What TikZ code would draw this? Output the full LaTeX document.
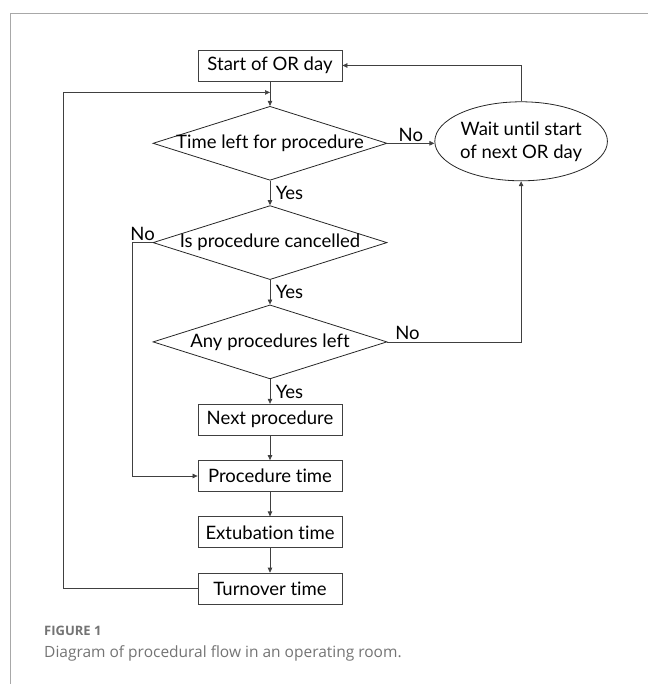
\documentclass[tikz,border=0pt]{standalone}
\usepackage{fontspec}
\setmainfont{Lato}[Ligatures=NoCommon]
\newfontfamily\capfont{Open Sans}
\usetikzlibrary{shapes.geometric}
\usetikzlibrary{arrows.meta}
\usetikzlibrary{calc}
\usetikzlibrary{positioning}
\definecolor{framegray}{HTML}{A8A8A8}
\definecolor{capgray}{HTML}{747474}

\begin{document}
\begin{tikzpicture}[x=1pt, y=1pt,
    boxnode/.style={rectangle, draw=black!75, line width=0.8pt, minimum width=144pt, minimum height=31pt, inner sep=1pt, font=\fontsize{18.5}{20}\selectfont},
    decision/.style={diamond, draw=black!85, line width=0.8pt, minimum width=234pt, minimum height=74pt, inner sep=0pt},
    dtext/.style={font=\fontsize{18.5}{20}\selectfont, inner sep=0pt},
    waitnode/.style={ellipse, draw=black!85, line width=0.8pt, minimum width=167pt, minimum height=79pt, inner sep=0pt, align=center, font=\fontsize{18.5}{23}\selectfont},
    arr/.style={-{Triangle[length=5pt, width=4.5pt]}, draw=black!75, line width=0.7pt},
    lbl/.style={font=\fontsize{18.5}{20}\selectfont, inner sep=1.5pt},
    node distance=24.5pt]
    \useasboundingbox (0,0) rectangle (648,-684);
    % Frame
    \draw[framegray, line width=0.8pt] (10,-684) |- (648,-13);

    %Nodes
    \node[boxnode] (start) at (270,-65.5) {Start of OR day};
    \node[decision, label={[dtext]center:Time left for procedure}] (d1) [below=of start] {};
    \node[decision, label={[dtext]center:Is procedure cancelled}] (d2) [below=of d1] {};
    \node[decision, label={[dtext]center:Any procedures left}] (d3) [below=of d2] {};
    \node[boxnode] (next) [below=of d3] {Next procedure};
    \node[boxnode] (proc) [below=of next] {Procedure time};
    \node[boxnode] (extub) [below=of proc] {Extubation time};
    \node[boxnode] (turn) [below=of extub] {Turnover time};
    \node[waitnode] (wait) [right=47pt of d1, yshift=2pt] {Wait until start\\of next OR day};
    \coordinate (merge) at ($(start.south)!0.45!(d1.north)$);

    % Main line
    \draw[arr] (start) -- (d1);
    \draw[arr] (d1) -- node[lbl, right=4pt] {Yes} (d2);
    \draw[arr] (d2) -- node[lbl, right=4pt] {Yes} (d3);
    \draw[arr] (d3) -- node[lbl, right=4pt] {Yes} (next);
    \draw[arr] (next) -- (proc);
    \draw[arr] (proc) -- (extub);
    \draw[arr] (extub) -- (turn);

    % Branches
    \draw[arr] (d1.east) -- node[lbl, above] {No} (d1.east -| wait.west);
    \draw[arr] (d2.west) -- node[lbl, above] {No} ++(-20,0) |- (proc.west);
    \draw[arr] (d3.east) -- node[lbl, above, pos=0.15] {No} (d3.east -| wait.south) -- (wait.south);
    \draw[arr] (wait.north) |- (start.east);
    \draw[arr] (turn.west) -- ++(-134,0) |- (merge);

    % Caption
    \node[anchor=base west, inner sep=0pt, text=capgray, font=\capfont\bfseries\fontsize{13}{15}\selectfont] (fig) at (44,-635) {FIGURE 1};
    \node[anchor=base west, inner sep=0pt, text=capgray, font=\capfont\fontsize{15.5}{18}\selectfont] (caption) at (44,-657) {Diagram of procedural flow in an operating room.};
\end{tikzpicture}
\end{document}
